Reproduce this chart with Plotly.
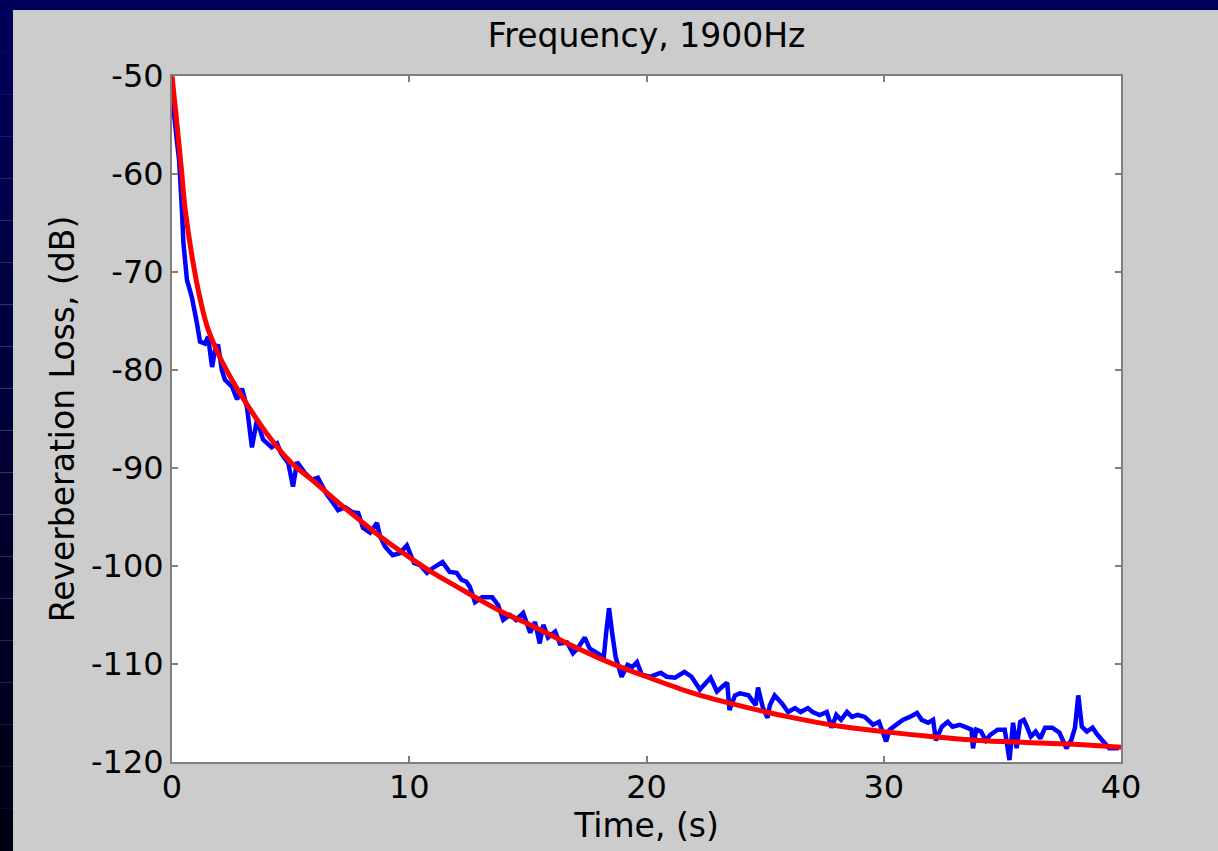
import plotly.graph_objects as go

# ─────────────────────────────────────────────
# Data
# ─────────────────────────────────────────────

# measured reverberation (blue)
time_meas = [
    0.0, 0.05, 0.2, 0.3, 0.42, 0.48, 0.63, 0.84, 1.05, 1.18, 1.39, 1.52, 1.69, 1.81, 1.94,
    2.1, 2.23, 2.53, 2.74, 2.95, 3.16, 3.37, 3.58, 3.84, 4.2, 4.43, 4.6, 4.9, 5.1, 5.27,
    5.6, 5.9, 6.15, 6.5, 6.8, 7.0, 7.3, 7.6, 7.85, 8.05, 8.35, 8.64, 8.77, 8.98, 9.3,
    9.6, 9.9, 10.2, 10.45, 10.75, 11.0, 11.4, 11.7, 12.0, 12.2, 12.4, 12.55, 12.77, 13.07, 13.5,
    13.75, 13.96, 14.25, 14.5, 14.8, 15.1, 15.3, 15.5, 15.65, 15.85, 16.15, 16.35, 16.65, 16.9, 17.1,
    17.4, 17.6, 17.9, 18.2, 18.3, 18.42, 18.55, 18.7, 18.95, 19.2, 19.4, 19.6, 19.8, 20.15, 20.6,
    20.85, 21.2, 21.6, 21.9, 22.25, 22.7, 22.97, 23.2, 23.4, 23.5, 23.73, 23.94, 24.3, 24.6, 24.7,
    24.9, 25.1, 25.2, 25.4, 25.7, 25.97, 26.26, 26.5, 26.8, 27.0, 27.3, 27.6, 27.8, 28.0, 28.2,
    28.45, 28.66, 28.9, 29.2, 29.55, 29.8, 30.1, 30.25, 30.5, 30.8, 31.1, 31.4, 31.6, 31.87, 32.08,
    32.2, 32.45, 32.7, 32.9, 33.2, 33.5, 33.7, 33.76, 33.9, 34.1, 34.3, 34.5, 34.8, 35.1, 35.25,
    35.3, 35.45, 35.6, 35.75, 35.9, 36.0, 36.2, 36.4, 36.6, 36.8, 37.1, 37.4, 37.7, 37.9, 38.06,
    38.2, 38.35, 38.56, 38.8, 39.0, 39.26, 39.5, 39.9,
]
loss_meas = [
    -50.5, -53.0, -56.5, -58.6, -63.7, -67.0, -70.8, -72.6, -75.2, -77.1, -77.3, -76.6, -79.7, -78.0, -77.4,
    -80.0, -81.0, -81.7, -83.0, -81.9, -83.8, -87.9, -85.1, -87.1, -87.9, -87.5, -88.5, -89.5, -91.9, -89.4,
    -90.5, -91.2, -91.0, -92.6, -93.6, -94.3, -94.0, -94.5, -94.6, -96.1, -96.6, -95.6, -97.0, -98.0, -98.9,
    -98.7, -97.9, -99.7, -99.9, -100.7, -100.2, -99.6, -100.6, -100.7, -101.4, -101.6, -102.1, -103.7, -103.2, -103.2,
    -104.0, -105.5, -105.0, -105.5, -104.8, -106.8, -105.7, -107.9, -106.0, -107.3, -106.7, -107.9, -107.8, -108.9, -108.4,
    -107.3, -108.4, -108.8, -109.3, -106.8, -104.3, -106.8, -109.3, -111.3, -110.1, -110.3, -109.8, -111.1, -111.3, -110.9,
    -111.3, -111.4, -110.8, -111.3, -112.6, -111.4, -112.8, -112.3, -111.9, -114.7, -113.2, -113.0, -113.2, -114.2, -112.4,
    -114.4, -115.5, -114.2, -113.2, -114.0, -114.9, -114.5, -114.9, -114.5, -114.9, -115.2, -114.9, -116.5, -115.2, -115.7,
    -114.9, -115.4, -115.2, -115.4, -116.2, -115.9, -117.9, -116.7, -116.2, -115.7, -115.4, -115.0, -115.7, -116.0, -115.7,
    -117.8, -116.4, -115.9, -116.4, -116.2, -116.5, -116.7, -118.6, -116.7, -116.9, -117.8, -117.2, -116.7, -116.7, -119.5,
    -119.8, -116.0, -118.6, -115.9, -115.7, -116.2, -117.4, -116.9, -117.6, -116.5, -116.5, -117.0, -118.6, -117.8, -116.5,
    -113.2, -116.4, -116.9, -116.5, -117.2, -117.9, -118.6, -118.6,
]

# fitted curve (red)
time_fit = [0, 0.15, 0.4, 0.55, 0.85, 1.2, 1.5, 2, 2.5, 3, 4, 5, 6, 7, 8, 9, 10, 11, 12, 13,
            14, 15, 16, 17, 18, 19, 20, 22, 24, 26, 28, 30, 32, 34, 36, 38, 40]
loss_fit = [-50.0, -53.5, -59.6, -63.5, -68.5, -72.9, -75.7, -78.6, -80.9, -82.9, -86.5, -89.4,
            -91.4, -93.5, -95.5, -97.4, -99.1, -100.7, -102.1, -103.5, -104.8, -105.9, -107.1,
            -108.3, -109.4, -110.4, -111.3, -113.0, -114.3, -115.4, -116.3, -116.9, -117.4,
            -117.8, -118.0, -118.2, -118.5]

x_ticks = [0, 10, 20, 30, 40]
y_ticks = [-50, -60, -70, -80, -90, -100, -110, -120]
y_tick_text = ["-50", "-60", "-70", "-80", "-90", "-100", "-110", "-120"]

# ─────────────────────────────────────────────
# Figure
# ─────────────────────────────────────────────
W, H = 1218, 851
ML, MR, MT, MB = 172, 97, 76, 89
PW, PH = W - ML - MR, H - MT - MB


def px(x):  # pixel -> paper x
    return (x - ML) / PW


def py(y):  # pixel -> paper y
    return (H - MB - y) / PH


font = "DejaVu Sans, Verdana, sans-serif"

fig = go.Figure()
fig.add_trace(go.Scatter(x=time_meas, y=loss_meas, mode="lines",
                         line=dict(color="#0000ff", width=4.5), hoverinfo="skip"))
fig.add_trace(go.Scatter(x=time_fit, y=loss_fit, mode="lines", line_shape="spline",
                         line=dict(color="#ff0000", width=5), hoverinfo="skip"))

# slide background: navy band on top and darkening strip at left
shapes = [dict(type="rect", xref="paper", yref="paper", x0=px(0), x1=px(W), y0=py(10), y1=py(0),
               fillcolor="#00005a", line_width=0, layer="above")]
n = 20
for s in range(n):
    y0 = 10 + (H - 10) * s / n
    y1 = 10 + (H - 10) * (s + 1) / n
    b = int(0x5a - (0x5a - 0x14) * s / (n - 1))
    shapes.append(dict(type="rect", xref="paper", yref="paper", x0=px(0), x1=px(13),
                       y0=py(y1), y1=py(y0), fillcolor=f"rgb(0,0,{b})", line_width=0, layer="above"))

axis_common = dict(showline=True, linecolor="#7f7f7f", linewidth=2, mirror="ticks",
                   ticks="inside", ticklen=6, tickwidth=1.5, tickcolor="#7f7f7f",
                   showgrid=False, zeroline=False, tickfont=dict(size=32, color="black"))

fig.update_layout(
    width=W, height=H,
    margin=dict(l=ML, r=MR, t=MT, b=MB),
    paper_bgcolor="#cccccc", plot_bgcolor="white",
    font=dict(family=font, color="black"),
    showlegend=False,
    title=dict(text="Frequency, 1900Hz", x=0.5, xref="paper", y=1 - 35 / H, yanchor="middle",
               font=dict(size=33, color="black")),
    xaxis=dict(range=[0, 40], tickvals=x_ticks, ticklabelstandoff=-4,
               title=dict(text="Time, (s)", font=dict(size=33), standoff=0), **axis_common),
    yaxis=dict(range=[-120, -50], tickvals=y_ticks, ticktext=y_tick_text,
               title=dict(text="Reverberation Loss, (dB)", font=dict(size=33), standoff=6),
               **axis_common),
    shapes=shapes,
)

fig.write_html("out.html", config={"displayModeBar": False},
               post_script="document.body.style.margin='0';")
